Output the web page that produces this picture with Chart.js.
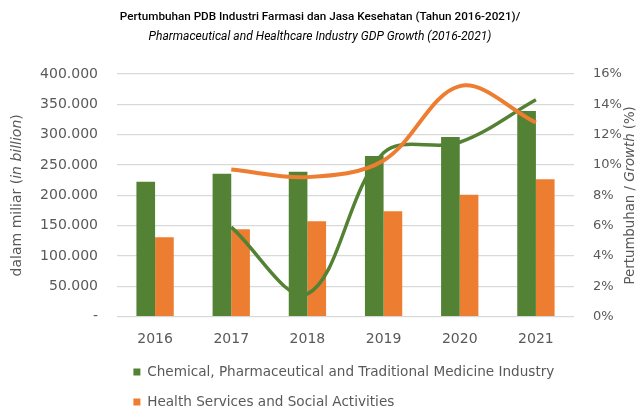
<!DOCTYPE html>
<html>
<head>
<meta charset="utf-8">
<script src="https://cdn.jsdelivr.net/npm/chart.js@4"></script>
<style>
  html, body { margin: 0; padding: 0; background: #ffffff; }
  #wrap { width: 640px; height: 411px; position: relative; }
</style>
</head>
<body>
<div id="wrap"><canvas id="c" width="640" height="411"></canvas></div>
<script>
const categories = ['2016', '2017', '2018', '2019', '2020', '2021'];
const chemGdp = [222500, 235700, 239000, 264900, 296200, 339000];
const healthGdp = [130900, 144000, 157200, 173700, 201100, 226400];
const chemGrowth = [null, 5.9, 1.5, 10.8, 11.5, 14.3];
const healthGrowth = [null, 9.7, 9.2, 10.3, 15.2, 12.8];
const seriesNames = ['Chemical, Pharmaceutical and Traditional Medicine Industry', 'Health Services and Social Activities'];
const titleLine1 = 'Pertumbuhan PDB Industri Farmasi dan Jasa Kesehatan (Tahun 2016-2021)/';
const titleLine2 = 'Pharmaceutical and Healthcare Industry GDP Growth (2016-2021)';
const leftTitleParts = [['dalam miliar (', false], ['in billion', true], [')', false]];
const rightTitleParts = [['Pertumbuhan / ', false], ['Growth', true], [' (%)', false]];

const GREEN = '#548235';
const ORANGE = '#ED7D31';
const AXIS_TEXT = '#595959';
const FONT = 'DejaVu Sans';

function fmtThousands(v) {
  if (v === 0) return '-';
  return String(v).replace(/\B(?=(\d{3})+(?!\d))/g, '.');
}

const axisTitlePlugin = {
  id: 'axisTitles',
  afterDraw(chart) {
    const ctx = chart.ctx;
    const area = chart.chartArea;
    const cy = (area.top + area.bottom) / 2;
    function drawParts(parts, x, angle, size) {
      ctx.save();
      ctx.translate(x, cy);
      ctx.rotate(angle);
      ctx.fillStyle = AXIS_TEXT;
      ctx.textBaseline = 'middle';
      ctx.textAlign = 'left';
      let total = 0;
      const widths = parts.map(([t, it]) => {
        ctx.font = (it ? 'italic ' : '') + size + 'px "' + FONT + '"';
        const w = ctx.measureText(t).width;
        total += w;
        return w;
      });
      let cx = -total / 2;
      parts.forEach(([t, it], i) => {
        ctx.font = (it ? 'italic ' : '') + size + 'px "' + FONT + '"';
        ctx.fillText(t, cx, 0);
        cx += widths[i];
      });
      ctx.restore();
    }
    drawParts(leftTitleParts, 17.5, -Math.PI / 2, 14);
    drawParts(rightTitleParts, 631, -Math.PI / 2, 13.3);
  }
};

new Chart(document.getElementById('c'), {
  type: 'bar',
  data: {
    labels: categories,
    datasets: [
      { label: seriesNames[0], data: chemGdp, backgroundColor: GREEN, yAxisID: 'y', order: 2,
        categoryPercentage: 0.49, barPercentage: 1.0 },
      { label: seriesNames[1], data: healthGdp, backgroundColor: ORANGE, yAxisID: 'y', order: 2,
        categoryPercentage: 0.49, barPercentage: 1.0 },
      { type: 'line', label: 'chemGrowth', data: chemGrowth, borderColor: GREEN, backgroundColor: GREEN,
        borderWidth: 3.5, pointRadius: 0, tension: 0.35, yAxisID: 'y1', order: 1, fill: false },
      { type: 'line', label: 'healthGrowth', data: healthGrowth, borderColor: ORANGE, backgroundColor: ORANGE,
        borderWidth: 4, pointRadius: 0, tension: 0.35, yAxisID: 'y1', order: 0, fill: false }
    ]
  },
  options: {
    responsive: false,
    animation: false,
    devicePixelRatio: 1,
    layout: { padding: { left: 0, right: 0, top: 0, bottom: 0 } },
    plugins: {
      tooltip: { enabled: false },
      title: {
        display: true,
        text: titleLine1,
        color: '#000000',
        font: { family: 'Roboto', size: 11.7, weight: '500' },
        padding: { top: 10, bottom: 0 }
      },
      subtitle: {
        display: true,
        text: titleLine2,
        color: '#000000',
        font: { family: 'Roboto', size: 12.1, style: 'italic', weight: 'normal' },
        padding: { top: 5.6, bottom: 29.8 }
      },
      legend: {
        position: 'bottom',
        align: 'start',
        fullSize: false,
        maxHeight: 62.2,
        labels: {
          color: AXIS_TEXT,
          font: { family: FONT, size: 13.6 },
          boxWidth: 7,
          boxHeight: 7,
          padding: 16.4,
          filter: (item) => item.datasetIndex < 2
        }
      }
    },
    scales: {
      x: {
        grid: { display: false, drawTicks: false },
        border: { display: false },
        ticks: { color: AXIS_TEXT, font: { family: FONT, size: 14, lineHeight: 1.45 }, padding: 12.4 },
        afterFit: (s) => { s.height = 32.1; }
      },
      y: {
        position: 'left',
        min: 0, max: 400000,
        grid: { color: '#d9d9d9', lineWidth: 1.3, drawTicks: false },
        border: { display: false },
        ticks: { stepSize: 50000, color: AXIS_TEXT, font: { family: FONT, size: 14 }, padding: 19,
          callback: (v) => fmtThousands(v) },
        afterFit: (s) => { s.width = 117; }
      },
      y1: {
        position: 'right',
        min: 0, max: 16,
        grid: { display: false, drawTicks: false },
        border: { display: false },
        ticks: { stepSize: 2, color: AXIS_TEXT, font: { family: FONT, size: 13 }, padding: 19,
          callback: (v) => v + '%' },
        afterFit: (s) => { s.width = 66; }
      }
    }
  },
  plugins: [axisTitlePlugin]
});
</script>
</body>
</html>
